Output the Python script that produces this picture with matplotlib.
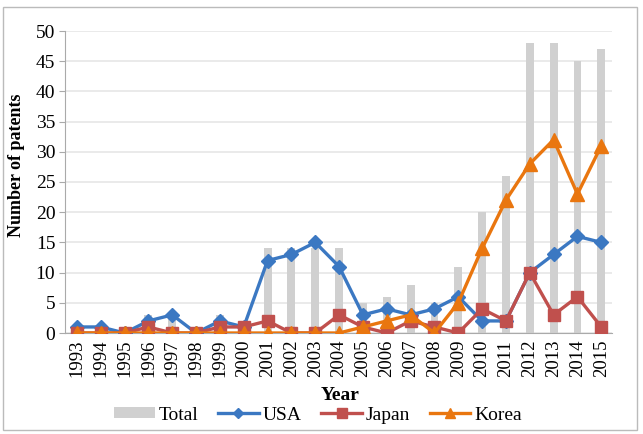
import matplotlib.pyplot as plt
import numpy as np
from matplotlib.patches import Rectangle

years = list(range(1993, 2016))
total = [1, 1, 0, 3, 3, 0, 3, 2, 14, 14, 14, 14, 5, 6, 8, 5, 11, 20, 26, 48, 48, 45, 47]
usa = [1, 1, 0, 2, 3, 0, 2, 1, 12, 13, 15, 11, 3, 4, 3, 4, 6, 2, 2, 10, 13, 16, 15]
japan = [0, 0, 0, 1, 0, 0, 1, 1, 2, 0, 0, 3, 1, 0, 2, 1, 0, 4, 2, 10, 3, 6, 1]
korea = [0, 0, 0, 0, 0, 0, 0, 0, 0, 0, 0, 0, 1, 2, 3, 0, 5, 14, 22, 28, 32, 23, 31]

plt.rcParams['font.family'] = ['Liberation Serif', 'DejaVu Serif']

fig = plt.figure(figsize=(6.43, 4.34), dpi=100)
ax = fig.add_axes([65 / 643, 1 - 333 / 434, 547 / 643, 302 / 434])

x = np.arange(len(years))
b = ax.bar(x, total, width=0.33, color='#d0d0d0', label='Total', zorder=1)
l1, = ax.plot(x, usa, color='#3b78c2', marker='D', markersize=7, linewidth=2.4, label='USA', zorder=3)
l2, = ax.plot(x, japan, color='#c0504d', marker='s', markersize=8.5, linewidth=2.4, label='Japan', zorder=4)
l3, = ax.plot(x, korea, color='#e9760f', marker='^', markersize=9.5, linewidth=2.4, label='Korea', zorder=5)

ax.set_ylim(0, 50)
ax.set_xlim(-0.5, len(years) - 0.55)
ax.set_yticks(range(0, 51, 5))
ax.set_xticks(x)
ax.set_xticklabels(years, rotation=90, fontsize=13.5)
ax.tick_params(axis='y', labelsize=14, length=4, color='#aaaaaa', pad=3)
ax.tick_params(axis='x', length=0, pad=5)
ax.grid(axis='y', color='#e6e6e6', linewidth=1.2, zorder=0)
ax.set_axisbelow(True)
for s in ['top', 'right']:
    ax.spines[s].set_visible(False)
ax.spines['left'].set_color('#aaaaaa')
ax.spines['bottom'].set_color('#aaaaaa')

fig.text(17 / 643, 1 - 165 / 434, 'Number of patents', fontsize=13, fontweight='bold',
         rotation=90, ha='center', va='center')
fig.text(340 / 643, 1 - 396 / 434, 'Year', fontsize=14, fontweight='bold', ha='center', va='center')

fig.legend([b, l1, l2, l3], ['Total', 'USA', 'Japan', 'Korea'], loc='center',
           bbox_to_anchor=(318 / 643, 1 - 415 / 434), ncol=4, frameon=False,
           fontsize=14, handlelength=2.1, handleheight=0.45, columnspacing=1.0,
           handletextpad=0.2, borderaxespad=0, markerscale=0.8)

fig.patches.append(Rectangle((3 / 643, 4 / 434), 634 / 643, 423 / 434, transform=fig.transFigure,
                             fill=False, edgecolor='#bbbbbb', linewidth=1))

fig.savefig('out.png', dpi=100)
